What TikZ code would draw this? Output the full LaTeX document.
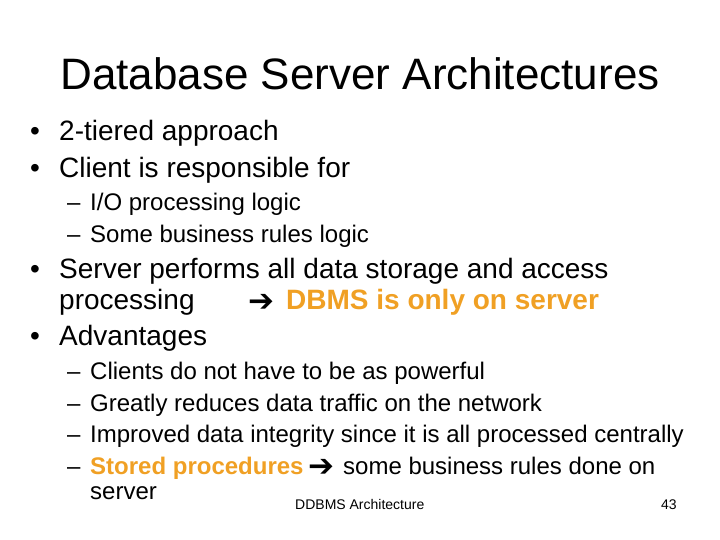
\documentclass[tikz,border=0pt]{standalone}
\usepackage{fontspec}
\setmainfont{Liberation Sans}
\newfontfamily\arrowfont{DejaVu Sans}
\definecolor{slideorange}{RGB}{240,160,36}

\begin{document}
\begin{tikzpicture}[x=1pt,y=-1pt,
	txt/.style={anchor=base west,inner sep=0pt},
	lvlone/.style={txt,font=\fontsize{28}{32}\selectfont},
	lvltwo/.style={txt,font=\fontsize{24}{28}\selectfont},
	hot/.style={text=slideorange,font=\fontsize{#1}{#1}\selectfont\bfseries},
	arrowglyph/.style={txt,font=\fontsize{31}{31}\selectfont\arrowfont\bfseries}]
	\useasboundingbox (0,0) rectangle (720,540);

	\node[txt,anchor=base,font=\fontsize{44}{48}\selectfont] (title) at (360,90) {Database Server Architectures};

	\node[lvlone] (b1) at (30,141) {\textbullet};
	\node[lvlone] (tier) at (59,141) {2-tiered approach};
	\node[lvlone] (b2) at (30,178) {\textbullet};
	\node[lvlone] (client) at (59,178) {Client is responsible for};
	\node[lvltwo] (d1) at (67,211) {--};
	\node[lvltwo] (io) at (90,211) {I/O processing logic};
	\node[lvltwo] (d2) at (67,242) {--};
	\node[lvltwo] (rules) at (90,242) {Some business rules logic};

	\node[lvlone] (b3) at (30,278) {\textbullet};
	\node[lvlone] (server) at (59,278) {Server performs all data storage and access};
	\node[lvlone] (proc) at (59,309) {processing};
	\node[arrowglyph] (arr1) at (248,311.5) {➔};
	\node[lvlone,hot=28] (dbms) at (286,309) {DBMS is only on server};
	\node[lvlone] (b4) at (30,345) {\textbullet};
	\node[lvlone] (adv) at (59,345) {Advantages};

	\node[lvltwo] (d3) at (67,379) {--};
	\node[lvltwo] (power) at (90,379) {Clients do not have to be as powerful};
	\node[lvltwo] (d4) at (67,411) {--};
	\node[lvltwo] (traffic) at (90,411) {Greatly reduces data traffic on the network};
	\node[lvltwo] (d5) at (67,442) {--};
	\node[lvltwo] (integ) at (90,442) {Improved data integrity since it is all processed centrally};
	\node[lvltwo] (d6) at (67,474) {--};
	\node[lvltwo,hot=24] (stored) at (90,474) {Stored procedures};
	\node[arrowglyph] (arr2) at (308,476.5) {➔};
	\node[lvltwo] (done) at (343,474) {some business rules done on};
	\node[lvltwo] (srv) at (90,499) {server};

	\node[txt,font=\fontsize{14}{16}\selectfont] (foot) at (295,509) {DDBMS Architecture};
	\node[txt,font=\fontsize{14}{16}\selectfont] (page) at (661,509) {43};
\end{tikzpicture}
\end{document}
